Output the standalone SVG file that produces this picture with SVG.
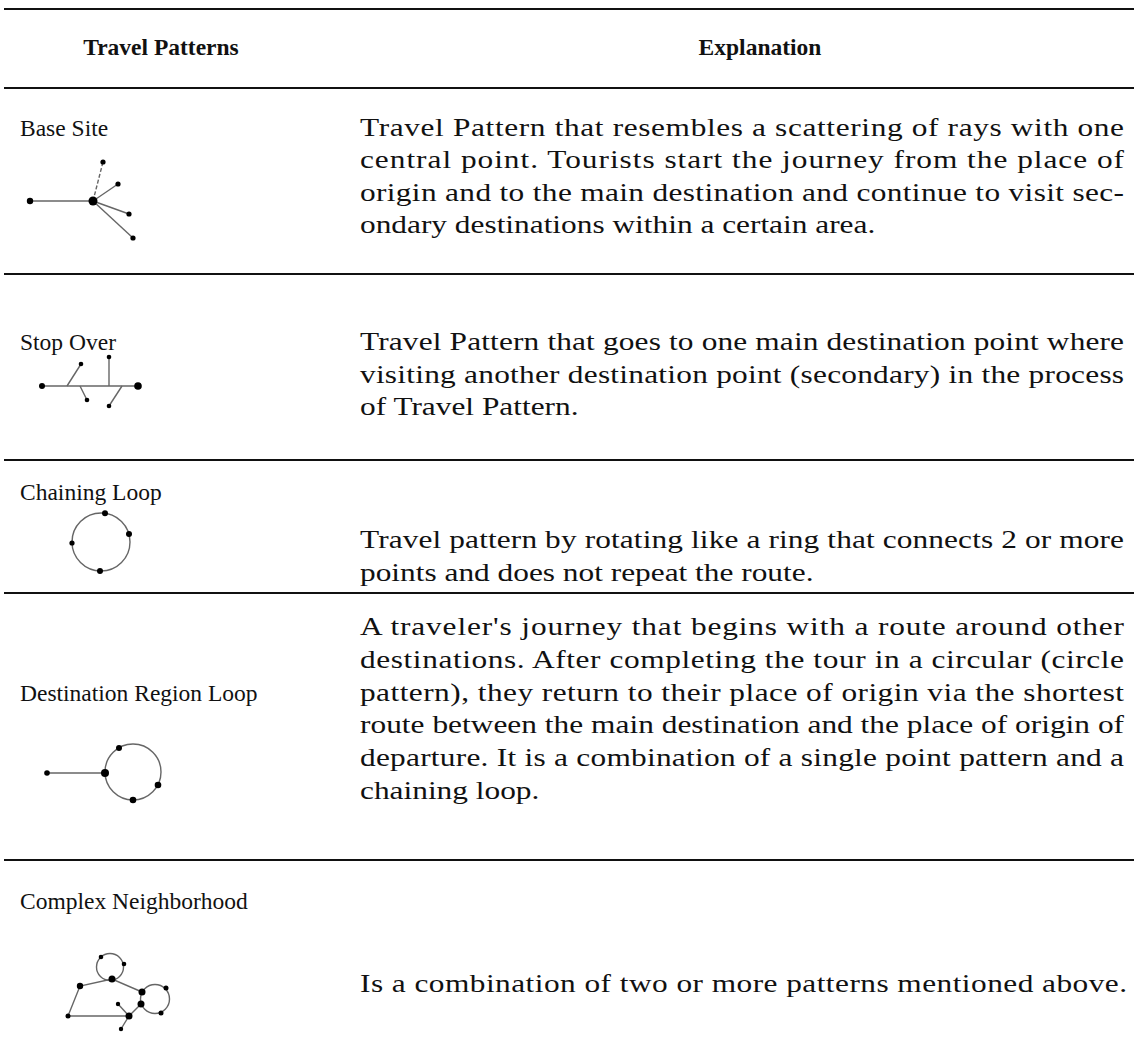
<svg xmlns="http://www.w3.org/2000/svg" width="1134" height="1047" viewBox="0 0 1134 1047">
<style>
.t{font-family:"Liberation Serif","Times New Roman",serif;font-size:23.5px;fill:#111}
.r{font-family:"Liberation Serif","Times New Roman",serif;font-size:24.5px;fill:#111}
.h{font-family:"Liberation Serif","Times New Roman",serif;font-size:23.5px;font-weight:bold;fill:#111;text-anchor:middle}
.rule{stroke:#111;stroke-width:2}
.ln{stroke:#666;stroke-width:1.4;fill:none}
.dot{fill:#000}
</style>
<rect width="1134" height="1047" fill="#fff"/>
<g id="rules">
<line class="rule" x1="4" y1="9" x2="1134" y2="9" stroke-width="3"/>
<line class="rule" x1="4" y1="88" x2="1134" y2="88"/>
<line class="rule" x1="4" y1="274" x2="1134" y2="274"/>
<line class="rule" x1="4" y1="460" x2="1134" y2="460"/>
<line class="rule" x1="4" y1="593" x2="1134" y2="593"/>
<line class="rule" x1="4" y1="860" x2="1134" y2="860"/>
</g>
<g id="header">
<text class="h" x="161" y="55">Travel Patterns</text>
<text class="h" x="760" y="55">Explanation</text>
</g>
<g id="base-site">
<text class="t" x="20" y="136">Base Site</text>
<g transform="translate(360,0) scale(1.28,1)">
<text class="r" x="0" y="136" textLength="596.9" lengthAdjust="spacing">Travel Pattern that resembles a scattering of rays with one</text>
<text class="r" x="0" y="168" textLength="596.9" lengthAdjust="spacing">central point. Tourists start the journey from the place of</text>
<text class="r" x="0" y="201" textLength="596.9" lengthAdjust="spacing">origin and to the main destination and continue to visit sec-</text>
<text class="r" x="0" y="233">ondary destinations within a certain area.</text>
</g>
<line class="ln" x1="30" y1="201" x2="93" y2="201"/>
<line class="ln" x1="93" y1="201" x2="103" y2="162" stroke-dasharray="4,2" stroke="#333"/>
<line class="ln" x1="93" y1="201" x2="118" y2="184"/>
<line class="ln" x1="93" y1="201" x2="129" y2="214"/>
<line class="ln" x1="93" y1="201" x2="133" y2="238"/>
<circle class="dot" cx="30" cy="201" r="3.2"/>
<circle class="dot" cx="93" cy="201" r="4.5"/>
<circle class="dot" cx="103" cy="162" r="2.6"/>
<circle class="dot" cx="118" cy="184" r="2.6"/>
<circle class="dot" cx="129" cy="214" r="2.6"/>
<circle class="dot" cx="133" cy="238" r="2.6"/>
</g>
<g id="stop-over">
<text class="t" x="20" y="350">Stop Over</text>
<g transform="translate(360,0) scale(1.28,1)">
<text class="r" x="0" y="350" textLength="596.9" lengthAdjust="spacing">Travel Pattern that goes to one main destination point where</text>
<text class="r" x="0" y="383" textLength="596.9" lengthAdjust="spacing">visiting another destination point (secondary) in the process</text>
<text class="r" x="0" y="415">of Travel Pattern.</text>
</g>
<line class="ln" x1="42" y1="386" x2="138" y2="386"/>
<line class="ln" x1="67" y1="386" x2="81" y2="364"/>
<line class="ln" x1="80" y1="386" x2="87" y2="400"/>
<line class="ln" x1="109" y1="386" x2="109" y2="357"/>
<line class="ln" x1="122" y1="386" x2="109" y2="406"/>
<circle class="dot" cx="42" cy="386" r="3"/>
<circle class="dot" cx="138" cy="386" r="3.8"/>
<circle class="dot" cx="81" cy="364" r="2.3"/>
<circle class="dot" cx="87" cy="400" r="2.3"/>
<circle class="dot" cx="109" cy="357" r="2.3"/>
<circle class="dot" cx="109" cy="406" r="2.3"/>
</g>
<g id="chaining-loop">
<text class="t" x="20" y="500">Chaining Loop</text>
<g transform="translate(360,0) scale(1.28,1)">
<text class="r" x="0" y="548" textLength="596.9" lengthAdjust="spacing">Travel pattern by rotating like a ring that connects 2 or more</text>
<text class="r" x="0" y="581">points and does not repeat the route.</text>
</g>
<circle class="ln" cx="101" cy="542" r="29"/>
<circle class="dot" cx="105" cy="513.3" r="3"/>
<circle class="dot" cx="129" cy="534" r="3"/>
<circle class="dot" cx="72" cy="543" r="2.6"/>
<circle class="dot" cx="100" cy="571" r="3"/>
</g>
<g id="destination-region-loop">
<text class="t" x="20" y="701">Destination Region Loop</text>
<g transform="translate(360,0) scale(1.28,1)">
<text class="r" x="0" y="635" textLength="596.9" lengthAdjust="spacing">A traveler's journey that begins with a route around other</text>
<text class="r" x="0" y="668" textLength="596.9" lengthAdjust="spacing">destinations. After completing the tour in a circular (circle</text>
<text class="r" x="0" y="701" textLength="596.9" lengthAdjust="spacing">pattern), they return to their place of origin via the shortest</text>
<text class="r" x="0" y="733" textLength="596.9" lengthAdjust="spacing">route between the main destination and the place of origin of</text>
<text class="r" x="0" y="766" textLength="596.9" lengthAdjust="spacing">departure. It is a combination of a single point pattern and a</text>
<text class="r" x="0" y="799">chaining loop.</text>
</g>
<line class="ln" x1="47" y1="773" x2="105" y2="773" stroke="#444"/>
<circle class="ln" cx="133" cy="772" r="28"/>
<circle class="dot" cx="47" cy="773" r="2.8"/>
<circle class="dot" cx="105" cy="773" r="4"/>
<circle class="dot" cx="133" cy="800" r="3.3"/>
<circle class="dot" cx="158" cy="785" r="3.3"/>
<circle class="dot" cx="119" cy="748" r="3"/>
</g>
<g id="complex-neighborhood">
<text class="t" x="20" y="909">Complex Neighborhood</text>
<g transform="translate(360,0) scale(1.28,1)">
<text class="r" x="0" y="992" textLength="599.2" lengthAdjust="spacing">Is a combination of two or more patterns mentioned above.</text>
</g>
<circle class="ln" cx="110" cy="967" r="13.5"/>
<circle class="ln" cx="155" cy="999" r="14.5"/>
<polyline class="ln" points="68,1016 80,986 112,979 142,992"/>
<line class="ln" x1="68" y1="1016" x2="129" y2="1016"/>
<line class="ln" x1="118" y1="1004" x2="129" y2="1016"/>
<line class="ln" x1="129" y1="1016" x2="121" y2="1029"/>
<line class="ln" x1="129" y1="1016" x2="141" y2="1004"/>
<circle class="dot" cx="101" cy="957" r="2.3"/>
<circle class="dot" cx="124" cy="964" r="2.3"/>
<circle class="dot" cx="112" cy="979" r="3.5"/>
<circle class="dot" cx="80" cy="986" r="3.2"/>
<circle class="dot" cx="68" cy="1016" r="2.5"/>
<circle class="dot" cx="142" cy="992" r="3.5"/>
<circle class="dot" cx="141" cy="1004" r="3.5"/>
<circle class="dot" cx="166" cy="988" r="2.5"/>
<circle class="dot" cx="161" cy="1013" r="2.5"/>
<circle class="dot" cx="129" cy="1016" r="3.5"/>
<circle class="dot" cx="118" cy="1004" r="2.2"/>
<circle class="dot" cx="121" cy="1029" r="2.2"/>
</g>
</svg>
